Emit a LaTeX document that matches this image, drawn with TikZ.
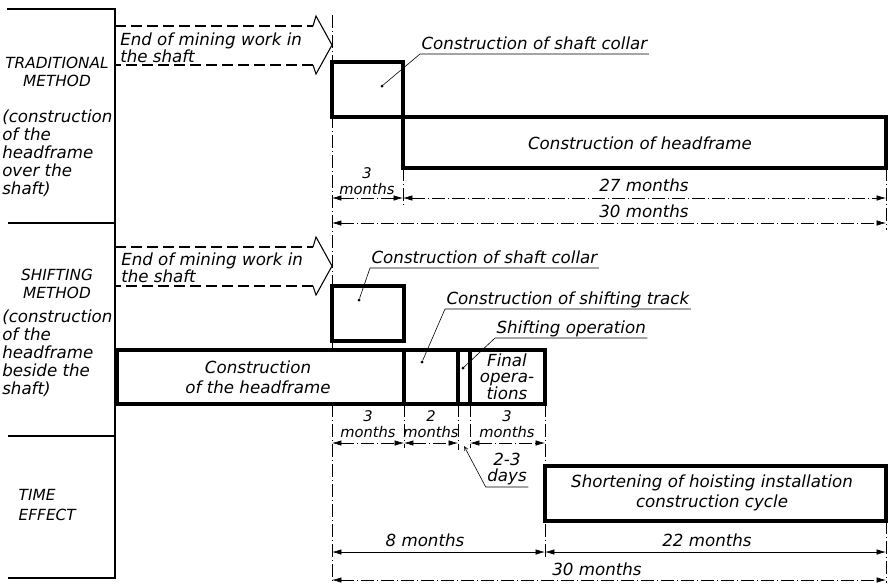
\documentclass[tikz,border=0pt]{standalone}
\usepackage{fontspec}
\setsansfont{DejaVu Sans}
\usetikzlibrary{arrows.meta}

\begin{document}
\begin{tikzpicture}[
  x=0.75pt, y=-0.75pt,
  font=\sffamily\itshape\fontsize{12.5}{13.5}\selectfont,
  barbox/.style={line width=2.3pt},
  frame/.style={line width=0.9pt},
  guide/.style={line width=0.45pt, dash pattern={on 10pt off 2pt on 1pt off 2pt}},
  dim/.style={guide, {Latex[length=7pt,width=4pt]}-{Latex[length=7pt,width=4pt]}},
  lead/.style={line width=0.45pt},
  note/.style={anchor=south west, inner sep=1pt, text depth=2.5pt},
  dot/.style={circle, fill, inner sep=0.8pt},
  caps/.style={font=\sffamily\itshape\fontsize{11.5}{13.5}\selectfont, align=center},
  side/.style={anchor=north west, align=left, inner sep=0pt},
  twoline/.style={align=center, font=\sffamily\itshape\fontsize{12.5}{12}\selectfont, inner sep=0pt},
  span/.style={align=center, font=\sffamily\itshape\fontsize{11}{11.5}\selectfont, inner sep=0pt}
]
\useasboundingbox (0,0) rectangle (888,583);

% left column
\draw[frame] (7,9) -- (115,9) -- (115,578) -- (8,578);
\draw[frame] (8,223) -- (115,223);
\draw[frame] (8,436) -- (115,436);
\node[caps] (trad) at (57,72) {TRADITIONAL\\METHOD};
\node[side] (tradnote) at (2,110) {(construction\\of the\\headframe\\over the\\shaft)};
\node[caps] (shift) at (57,284) {SHIFTING\\METHOD};
\node[side] (shiftnote) at (2,310) {(construction\\of the\\headframe\\beside the\\shaft)};
\node[caps, align=left, anchor=west] (time) at (14,505) {TIME\\[1.5pt]EFFECT};

% end of mining work
\foreach \dy in {0,221} {
  \draw[line width=0.8pt, dash pattern={on 8pt off 4pt}] (115,26+\dy) -- (313,26+\dy) (313,65+\dy) -- (115,65+\dy);
  \draw[line width=0.8pt] (313,26+\dy) -- (316,16+\dy) -- (332,45+\dy) -- (316,74+\dy) -- (313,65+\dy);
}
\node[twoline, align=left, anchor=west] (endtrad) at (120,48) {End of mining work in\\the shaft};
\node[twoline, align=left, anchor=west] (endshift) at (121,268) {End of mining work in\\the shaft};

\draw[guide] (332,15) -- (332,350) (332,404) -- (332,583);

% traditional method
\draw[barbox] (332,62) rectangle (403,117);
\draw[barbox] (403,117) rectangle (886,168);
\node (thead) at (640,143) {Construction of headframe};
\node[note] (tcollar) at (420,54) {Construction of shaft collar};
\node[dot] (tcdot) at (382,86) {};
\draw[lead] (tcollar.south east) -- (tcollar.south west) -- (tcdot);
\draw[guide] (403,168) -- (403,206);
\draw[guide] (886,168) -- (886,230);
\draw[dim] (332,198) -- (403,198);
\draw[dim] (403,198) -- (886,198);
\draw[dim] (332,223) -- (886,223);
\node[span] (t3) at (367,181) {3\\months};
\node (t27) at (644,185) {27 months};
\node (t30) at (644,211) {30 months};

% shifting method
\draw[barbox] (332,286) rectangle (404,341);
\draw[barbox] (117,350) rectangle (545,404);
\draw[barbox] (404,350) -- (404,404) (458,350) -- (458,404) (470,350) -- (470,404);
\node[align=center, font=\sffamily\itshape\fontsize{12.5}{15}\selectfont] (shead) at (258,377) {Construction\\of the headframe};
\node[twoline] (final) at (507,377) {Final\\opera-\\tions};
\node[note] (scollar) at (370,268) {Construction of shaft collar};
\node[dot] (scdot) at (359,300) {};
\draw[lead] (scollar.south east) -- (scollar.south west) -- (scdot);
\node[note] (strack) at (445,309) {Construction of shifting track};
\node[dot] (stdot) at (422,362) {};
\draw[lead] (strack.south east) -- (strack.south west) -- (stdot);
\node[note] (sop) at (495,338) {Shifting operation};
\node[dot] (sodot) at (463,368) {};
\draw[lead] (sop.south east) -- (sop.south west) -- (sodot);
\draw[guide] (404,404) -- (404,448);
\draw[guide] (458,404) -- (458,450);
\draw[guide] (470,404) -- (470,448);
\draw[guide] (545,404) -- (545,558);
\draw[dim] (332,443) -- (404,443);
\draw[dim] (404,443) -- (458,443);
\draw[dim] (470,443) -- (545,443);
\node[span] (s3) at (368,424) {3\\months};
\node[span] (s2) at (431,424) {2\\months};
\node[span] (s3b) at (507,424) {3\\months};
\node[twoline, anchor=south, inner sep=1pt] (days) at (507,487) {2-3\\days};
\coordinate (gap) at (464,446);
\draw[lead, -{Straight Barb[length=3pt,width=3pt]}] (days.south east) -- (days.south west) -- (gap);

% time effect
\draw[barbox] (545,466) rectangle (886,521);
\node[align=center, font=\sffamily\itshape\fontsize{12.5}{15}\selectfont] (gain) at (712,493) {Shortening of hoisting installation\\construction cycle};
\draw[guide] (886,521) -- (886,583);
\draw[dim, solid] (332,552) -- (545,552);
\draw[dim, solid] (545,552) -- (886,552);
\draw[dim] (332,580) -- (886,580);
\node (e8) at (425,540) {8 months};
\node (e22) at (707,540) {22 months};
\node (e30) at (597,569) {30 months};
\end{tikzpicture}
\end{document}
